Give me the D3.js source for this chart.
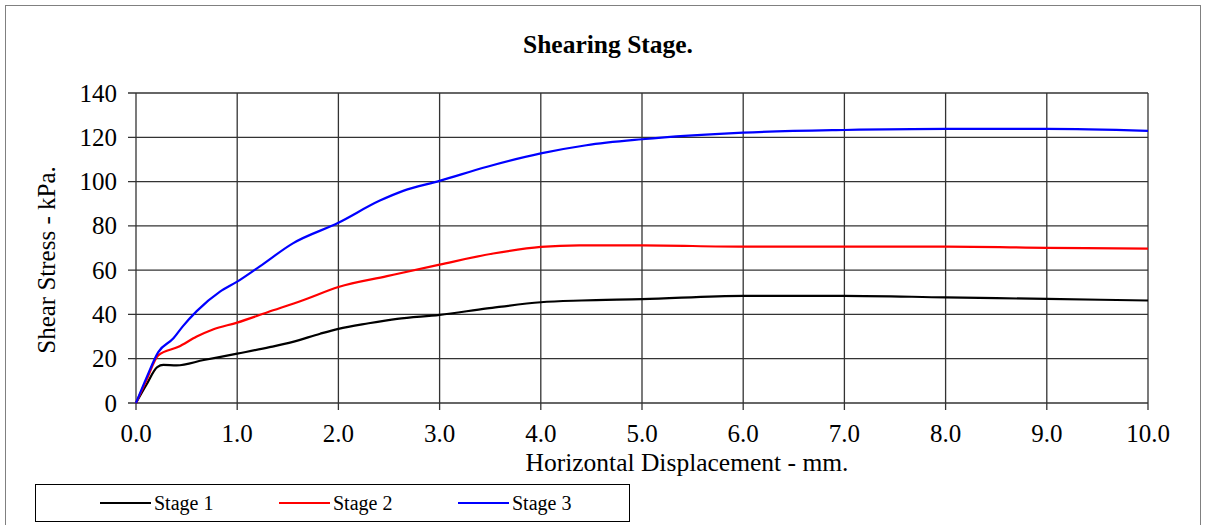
<!DOCTYPE html>
<html><head><meta charset="utf-8">
<script src="https://cdn.jsdelivr.net/npm/d3@7"></script>
<style>body{margin:0;background:#fff}svg{display:block}text{font-family:"Liberation Serif","Times New Roman",serif}</style>
</head><body><svg id="c" width="1210" height="525"></svg>
<script>
const title = "Shearing Stage.";
const xLabel = "Horizontal Displacement - mm.";
const yLabel = "Shear Stress - kPa.";
const xTicks = [0,1,2,3,4,5,6,7,8,9,10];
const yTicks = [0,20,40,60,80,100,120,140];
const seriesNames = ["Stage 1","Stage 2","Stage 3"];
const seriesColors = ["#000000","#ff0000","#0000ff"];
const stage1 = [[0,0],[0.1,8],[0.21,16.2],[0.27,17.2],[0.4,17],[0.67,19.4],[1.0,22.3],[1.32,25.2],[1.55,27.6],[1.82,31.3],[2.0,33.5],[2.3,36],[2.58,38],[3.0,39.8],[3.47,42.7],[4.0,45.5],[4.4,46.3],[5.0,46.9],[6.0,48.4],[7.0,48.4],[8.0,47.7],[9.0,47.0],[10.0,46.3]];
const stage2 = [[0,0],[0.1,10],[0.22,21.5],[0.42,25.4],[0.6,30],[0.76,33.2],[1.0,36.3],[1.3,41],[1.65,46.4],[2.0,52.4],[2.48,57.3],[3.0,62.5],[3.53,67.5],[4.0,70.5],[4.38,71.2],[5.0,71.2],[6.0,70.6],[7.0,70.6],[8.0,70.6],[9.0,70.1],[10.0,69.7]];
const stage3 = [[0,0],[0.1,11],[0.22,23],[0.37,29.2],[0.46,34.5],[0.6,41.5],[0.83,50.3],[1.0,54.8],[1.22,61.6],[1.55,72.1],[2.0,81.4],[2.41,91.4],[2.64,95.8],[3.0,100.3],[3.47,106.7],[4.0,112.7],[4.45,116.4],[5.0,119.1],[6.0,122.1],[7.0,123.3],[8.0,123.8],[9.0,123.8],[10.0,122.9]];
const seriesData = [stage1, stage2, stage3];

const svg = d3.select("#c");
const L = 136, R = 1148, T = 93, B = 403;
const x = d3.scaleLinear().domain([0,10]).range([L,R]);
const y = d3.scaleLinear().domain([0,140]).range([B,T]);

// outer frame
svg.append("rect").attr("x",5.5).attr("y",5.5).attr("width",1195).attr("height",530)
  .attr("fill","none").attr("stroke","#808080").attr("stroke-width",1);

// grid
const grid = svg.append("g").attr("stroke","#333").attr("stroke-width",1.3);
yTicks.forEach(v=>grid.append("line").attr("x1",L-8).attr("x2",R).attr("y1",y(v)).attr("y2",y(v)));
xTicks.forEach(v=>grid.append("line").attr("x1",x(v)).attr("x2",x(v)).attr("y1",T).attr("y2",B+7));

// tick labels
svg.append("g").selectAll("text").data(yTicks).join("text")
  .attr("x",L-19).attr("y",d=>y(d)).attr("dy","0.34em").attr("text-anchor","end")
  .attr("font-size",25).text(d=>d);
svg.append("g").selectAll("text").data(xTicks).join("text")
  .attr("x",d=>x(d)).attr("y",B+39).attr("text-anchor","middle")
  .attr("font-size",25).text(d=>d3.format(".1f")(d));

// titles
svg.append("text").attr("x",608).attr("y",53).attr("text-anchor","middle")
  .attr("font-size",25.5).attr("font-weight","bold").text(title);
svg.append("text").attr("x",687).attr("y",471).attr("text-anchor","middle")
  .attr("font-size",25.5).text(xLabel);
svg.append("text").attr("transform","translate(55,260) rotate(-90)").attr("text-anchor","middle")
  .attr("font-size",25).text(yLabel);

// lines
const line = d3.line().x(d=>x(d[0])).y(d=>y(d[1])).curve(d3.curveMonotoneX);
seriesData.forEach((s,i)=>{
  svg.append("path").datum(s).attr("d",line).attr("fill","none")
    .attr("stroke",seriesColors[i]).attr("stroke-width",2.2);
});

// legend
svg.append("rect").attr("x",35.5).attr("y",484.5).attr("width",594).attr("height",37)
  .attr("fill","#fff").attr("stroke","#000").attr("stroke-width",1);
const lx = [100,279,458];
seriesNames.forEach((n,i)=>{
  svg.append("line").attr("x1",lx[i]).attr("x2",lx[i]+51).attr("y1",503).attr("y2",503)
    .attr("stroke",seriesColors[i]).attr("stroke-width",2.2);
  svg.append("text").attr("x",lx[i]+54).attr("y",510).attr("font-size",20).text(n);
});
</script></body></html>
